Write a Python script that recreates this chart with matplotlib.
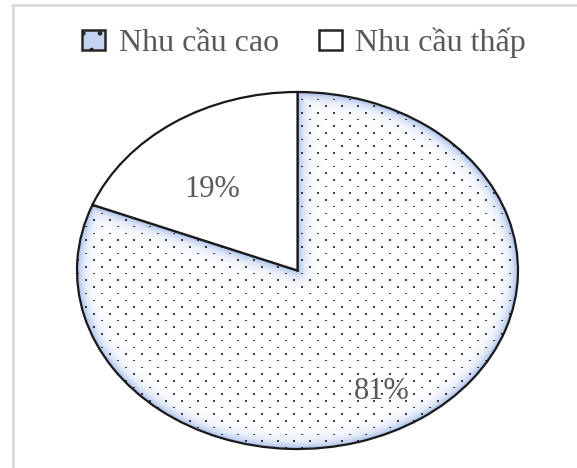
import numpy as np
import matplotlib
matplotlib.use('Agg')
import matplotlib.pyplot as plt
from matplotlib.patches import Patch
from matplotlib.lines import Line2D

labels = ['Nhu cầu cao', 'Nhu cầu thấp']
values = [81, 19]
# label placement (radius, angle shift in degrees) per slice
label_pos = [(0.78, -4.8), (0.595, 6.5)]

plt.rcParams['font.family'] = ['Liberation Serif', 'DejaVu Serif']
plt.rcParams['hatch.linewidth'] = 0.9

W, H = 577, 468
fig = plt.figure(figsize=(W / 100, H / 100), dpi=100)
fig.patch.set_facecolor('white')

# light frame (top + left)
fig.add_artist(Line2D([13 / W, 1], [1 - 5 / H, 1 - 5 / H], color='#d9d9d9', lw=2))
fig.add_artist(Line2D([13 / W, 13 / W], [0, 1 - 5 / H], color='#d9d9d9', lw=2))

AW, AH = 441, 357
ax = fig.add_axes([77 / W, 19 / H, AW / W, AH / H])
wedges, _ = ax.pie(values, startangle=90, counterclock=False, radius=1,
                   wedgeprops=dict(edgecolor='#1a1a1a', linewidth=1.6))
ax.set_aspect('auto')
ax.set_xlim(-1.0, 1.0)
ax.set_ylim(-1.0, 1.0)

wedges[0].set_facecolor('none')
wedges[0].set_zorder(3)
wedges[1].set_facecolor('white')
wedges[1].set_zorder(3)

# texture for the big slice: blue glow along its edges + dotted pattern
sx, sy = AW / 2, AH / 2
jj, ii = np.meshgrid(np.arange(AW), np.arange(AH))
X = (jj + 0.5) / sx - 1
Y = (ii + 0.5) / sy - 1
R = np.hypot(X, Y) + 1e-9
d_out = (1 - R) * np.hypot(sx * X / R, sy * Y / R)
PX, PY = X * sx, Y * sy


def seg_dist(ang):
    ux, uy = sx * np.cos(np.radians(ang)), sy * np.sin(np.radians(ang))
    L = np.hypot(ux, uy)
    ux, uy = ux / L, uy / L
    t = np.clip(PX * ux + PY * uy, 0, L)
    return np.hypot(PX - t * ux, PY - t * uy)


d = np.minimum(d_out, np.minimum(seg_dist(wedges[0].theta1), seg_dist(wedges[0].theta2)))
d = np.clip(d, 0, None)
k = np.exp(-d / 6.0)[..., None]
blue = np.array(matplotlib.colors.to_rgb('#9db5e6'))
img = (1 - k) * np.ones(3) + k * blue

row = np.floor(ii / 6.7).astype(int)
on_row = (ii - np.round(row * 6.7)) < 2
on_col = ((jj + (row % 2) * 8) % 16) < 2
dots = on_row & on_col
img[dots] = img[dots] * 0.25

im = ax.imshow(img, extent=[-1, 1, -1, 1], origin='lower', zorder=2,
               interpolation='nearest', aspect='auto')
im.set_clip_path(wedges[0])

for w, v, (r, shift) in zip(wedges, values, label_pos):
    mid = np.radians((w.theta1 + w.theta2) / 2 + shift)
    ax.text(r * np.cos(mid), r * np.sin(mid), f'{v}%', ha='center', va='center',
            fontsize=22, color='#595959', zorder=5)

handles = [Patch(facecolor='#c3d3f0', edgecolor='#262626', hatch='.', linewidth=1.8),
           Patch(facecolor='white', edgecolor='#262626', linewidth=1.8)]
fig.legend(handles, labels, loc='center', bbox_to_anchor=(304 / W, 1 - 43 / H),
           ncol=2, frameon=False, fontsize=23, labelcolor='#595959',
           handlelength=0.72, handleheight=0.6, handletextpad=0.42,
           columnspacing=1.25, borderaxespad=0)

fig.savefig('out.png', dpi=100, facecolor='white')
